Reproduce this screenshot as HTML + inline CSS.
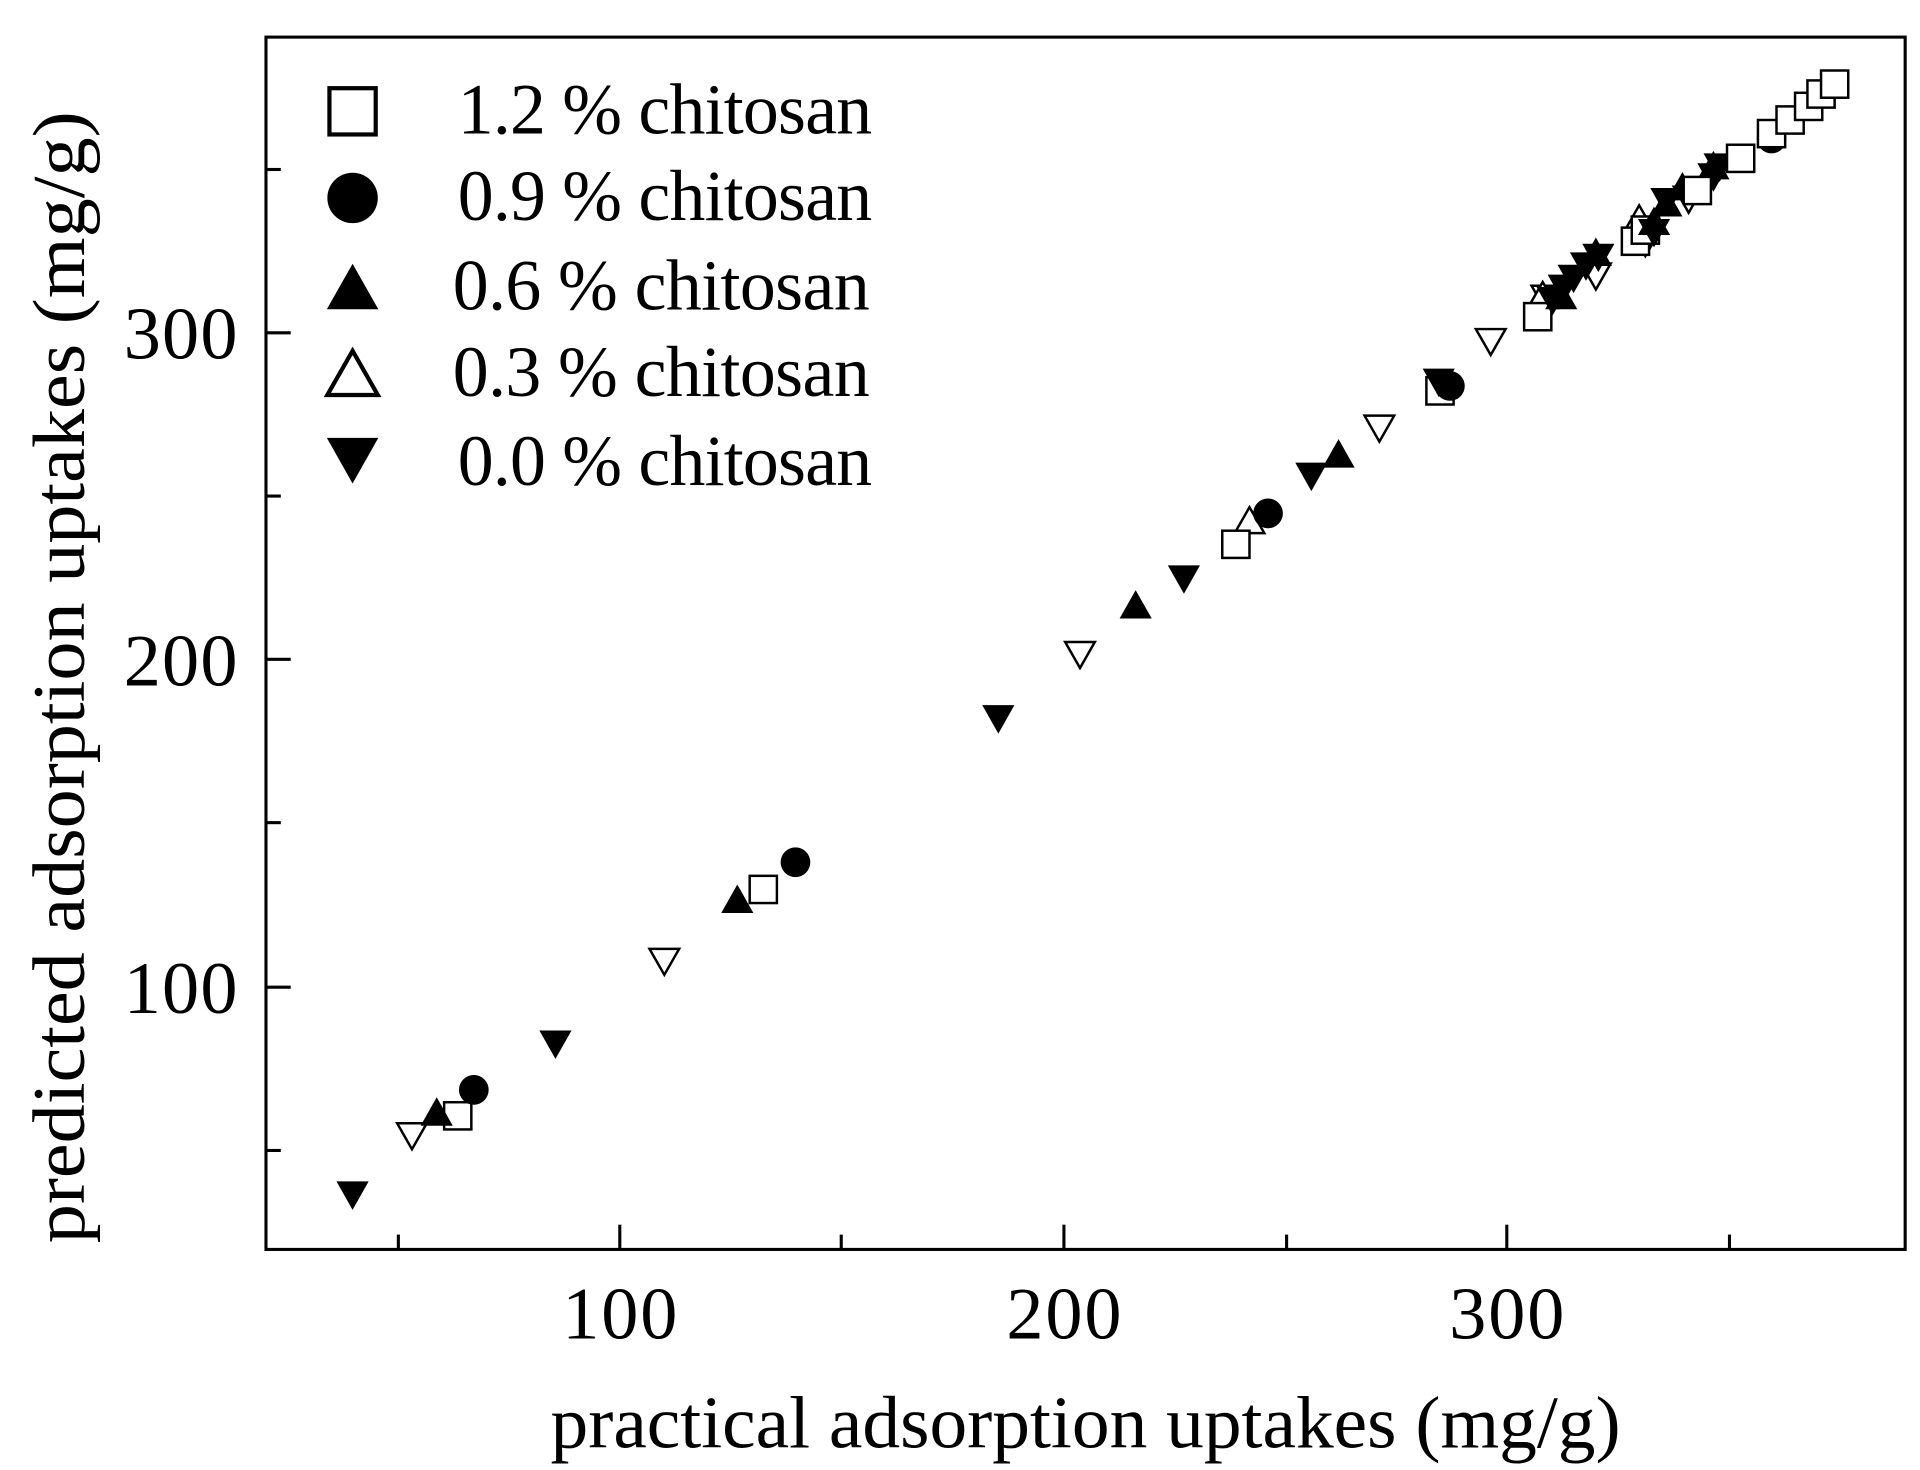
<!DOCTYPE html>
<html><head><meta charset="utf-8"><style>html,body{margin:0;padding:0;background:#fff}svg{display:block}</style></head>
<body>
<svg width="1920" height="1470" viewBox="0 0 1552 1188.3" preserveAspectRatio="none" xmlns="http://www.w3.org/2000/svg" font-family="'Liberation Serif', serif">
<defs>
<rect id="sq" x="-11" y="-11" width="22" height="22" fill="#fff" stroke="#000" stroke-width="2"/>
<circle id="ci" r="12" fill="#000"/>
<path id="tu" d="M0,-13 L13,10 L-13,10 Z" fill="#000"/>
<path id="to" d="M0,-12 L12,9 L-12,9 Z" fill="#fff" stroke="#000" stroke-width="2"/>
<path id="td" d="M0,13 L13,-10 L-13,-10 Z" fill="#000"/>
<path id="tdo" d="M0,12 L12,-9 L-12,-9 Z" fill="#fff" stroke="#000" stroke-width="2"/>
</defs>
<rect x="215" y="30" width="1325" height="980" fill="none" stroke="#000" stroke-width="2.5"/>
<g stroke="#000" stroke-width="2.5">
<line x1="322" y1="1010" x2="322" y2="998"/><line x1="501" y1="1010" x2="501" y2="990"/>
<line x1="680" y1="1010" x2="680" y2="998"/><line x1="860" y1="1010" x2="860" y2="990"/>
<line x1="1040" y1="1010" x2="1040" y2="998"/><line x1="1218" y1="1010" x2="1218" y2="990"/>
<line x1="1398" y1="1010" x2="1398" y2="998"/>
<line x1="215" y1="137" x2="227" y2="137"/><line x1="215" y1="269" x2="235" y2="269"/>
<line x1="215" y1="401" x2="227" y2="401"/><line x1="215" y1="533" x2="235" y2="533"/>
<line x1="215" y1="665" x2="227" y2="665"/><line x1="215" y1="798" x2="235" y2="798"/>
<line x1="215" y1="930" x2="227" y2="930"/>
</g>
<g font-size="60" text-anchor="middle">
<text x="501" y="1082" textLength="93">100</text><text x="860" y="1082" textLength="93">200</text><text x="1218" y="1082" textLength="93">300</text>
</g>
<g font-size="60" text-anchor="end">
<text x="192" y="290" textLength="92">300</text><text x="192" y="554" textLength="92">200</text><text x="192" y="819" textLength="92">100</text>
</g>
<text x="445" y="1170" font-size="60" textLength="865" lengthAdjust="spacingAndGlyphs">practical adsorption uptakes (mg/g)</text>
<text transform="translate(68,1005) rotate(-90)" font-size="60" textLength="915" lengthAdjust="spacingAndGlyphs">predicted adsorption uptakes (mg/g)</text>
<!-- legend -->
<g transform="translate(285,90) scale(1.7)"><use href="#sq"/></g>
<g transform="translate(285,160) scale(1.7)"><use href="#ci"/></g>
<g transform="translate(285,234) scale(1.6)"><use href="#tu"/></g>
<g transform="translate(285,304) scale(1.7)"><use href="#to"/></g>
<g transform="translate(285,370) scale(1.6)"><use href="#td"/></g>
<g font-size="58" lengthAdjust="spacingAndGlyphs">
<text x="370" y="108" textLength="335">1.2 % chitosan</text><text x="370" y="178" textLength="335">0.9 % chitosan</text>
<text x="366" y="250" textLength="337">0.6 % chitosan</text><text x="366" y="320" textLength="337">0.3 % chitosan</text>
<text x="370" y="392" textLength="335">0.0 % chitosan</text>
</g>
<!-- data -->
<g>
<use href="#tdo" x="333" y="917"/><use href="#tdo" x="537" y="776"/><use href="#tdo" x="873" y="528"/><use href="#tdo" x="1115" y="345"/><use href="#tdo" x="1205" y="275"/><use href="#tdo" x="1290" y="222"/><use href="#tdo" x="1365" y="160"/><use href="#tdo" x="1250" y="240"/><use href="#tdo" x="1330" y="195"/>
<use href="#to" x="1010" y="422"/><use href="#to" x="1247" y="240"/><use href="#to" x="1325" y="178"/>
<use href="#sq" x="370" y="902"/><use href="#sq" x="617" y="719"/><use href="#sq" x="999" y="440"/><use href="#sq" x="1164" y="316"/><use href="#sq" x="1243" y="256"/><use href="#sq" x="1322" y="195"/><use href="#sq" x="1330" y="186"/>
<use href="#td" x="285" y="965"/><use href="#td" x="449" y="843"/><use href="#td" x="807" y="580"/><use href="#td" x="957" y="467"/><use href="#td" x="1060" y="384"/><use href="#td" x="1163" y="308"/><use href="#td" x="1255" y="242"/><use href="#td" x="1264" y="232"/><use href="#td" x="1272" y="224"/><use href="#td" x="1282" y="214"/><use href="#td" x="1292" y="207"/><use href="#td" x="1337" y="187"/><use href="#td" x="1347" y="162"/><use href="#td" x="1385" y="142"/><use href="#td" x="1390" y="134"/>
<use href="#tu" x="353" y="900"/><use href="#tu" x="596" y="728"/><use href="#tu" x="918" y="490"/><use href="#tu" x="1082" y="368"/><use href="#tu" x="1262" y="240"/><use href="#tu" x="1290" y="205"/><use href="#tu" x="1337" y="180"/><use href="#tu" x="1347" y="165"/><use href="#tu" x="1385" y="135"/><use href="#tu" x="1360" y="152"/>
<use href="#ci" x="383" y="881"/><use href="#ci" x="643" y="697"/><use href="#ci" x="1025" y="415"/><use href="#ci" x="1172" y="312"/><use href="#ci" x="1432" y="112"/>
<use href="#sq" x="1372" y="154"/><use href="#sq" x="1407" y="128"/><use href="#sq" x="1432" y="108"/><use href="#sq" x="1447" y="97"/><use href="#sq" x="1462" y="86"/><use href="#sq" x="1472" y="76"/><use href="#sq" x="1483" y="68"/>
</g>
</svg>
</body></html>
